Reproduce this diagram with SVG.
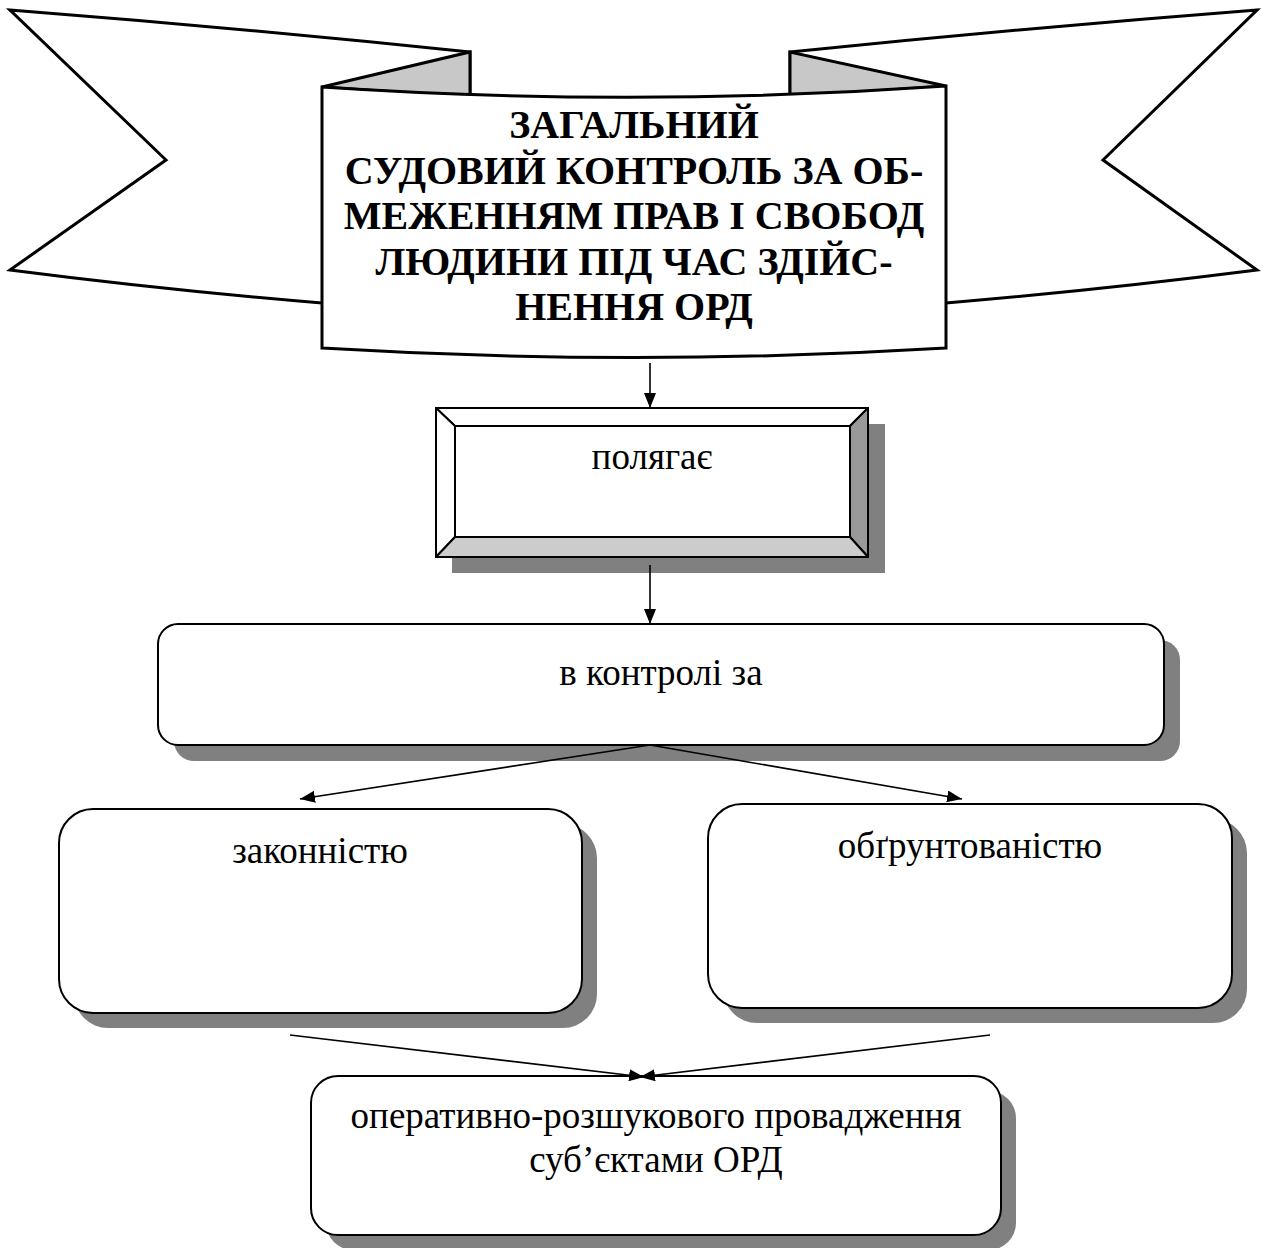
<svg xmlns="http://www.w3.org/2000/svg" width="1265" height="1248" viewBox="0 0 1265 1248">
<style>
.ban{fill:#fff;stroke:#000;stroke-width:3;stroke-linejoin:miter}
.fold{fill:#c8c8c8;stroke:#000;stroke-width:3;stroke-linejoin:miter}
.title{font-family:"Liberation Serif","Times New Roman",serif;font-weight:bold;font-size:40px;fill:#000;text-anchor:middle}
.txt{font-family:"Liberation Serif","Times New Roman",serif;font-size:37px;fill:#000;text-anchor:middle}
.box{fill:#fff;stroke:#000;stroke-width:2}
.shadow{fill:#808080;stroke:none}
.conn{fill:none;stroke:#000;stroke-width:1.6}
</style>
<defs>
<marker id="ah" markerUnits="userSpaceOnUse" markerWidth="16" markerHeight="12" refX="15" refY="6" orient="auto">
<path d="M0,0 L15,6 L0,12 Z" fill="#000"/>
</marker>
</defs>
<rect width="1265" height="1248" fill="#fff"/>

<g id="banner">
<path class="ban" d="M10,10 Q240,28 470,52 L470,300 L322,303 Q165,290 10,270 L166,160 Z"/>
<path class="ban" d="M1257,10 Q1025,28 790,52 L790,300 L946,303 Q1100,290 1257,270 L1103,160 Z"/>
<path class="fold" d="M322,87 L470,52 L470,97 Z"/>
<path class="fold" d="M946,86 L790,52 L790,97 Z"/>
<path class="ban" d="M322,87 Q634,108 946,86 L946,348 Q634,367 322,348 Z"/>
<text class="title" x="634" y="138">ЗАГАЛЬНИЙ</text>
<text class="title" x="634" y="184">СУДОВИЙ КОНТРОЛЬ ЗА ОБ-</text>
<text class="title" x="634" y="229">МЕЖЕННЯМ ПРАВ І СВОБОД</text>
<text class="title" x="634" y="275">ЛЮДИНИ ПІД ЧАС ЗДІЙС-</text>
<text class="title" x="634" y="320">НЕННЯ ОРД</text>
</g>

<g id="node-polyagaie">
<rect class="shadow" x="452" y="424" width="433" height="149"/>
<rect x="436" y="408" width="432" height="149" fill="#fff" stroke="#000" stroke-width="2"/>
<path d="M436,408 L868,408 L850,426 L455,426 Z" fill="#fff" stroke="#000" stroke-width="2" stroke-linejoin="round"/>
<path d="M436,408 L455,426 L455,537 L436,557 Z" fill="#fff" stroke="#000" stroke-width="2" stroke-linejoin="round"/>
<path d="M868,408 L868,557 L850,537 L850,426 Z" fill="#999" stroke="#000" stroke-width="2" stroke-linejoin="round"/>
<path d="M436,557 L455,537 L850,537 L868,557 Z" fill="#ccc" stroke="#000" stroke-width="2" stroke-linejoin="round"/>
<text class="txt" x="652" y="469">полягає</text>
</g>

<g id="node-kontroli">
<rect class="shadow" x="174" y="640" width="1006" height="121" rx="20"/>
<rect class="box" x="158" y="624" width="1006" height="121" rx="20"/>
<text class="txt" x="661" y="685">в контролі за</text>
</g>

<g id="node-zakonnist">
<rect class="shadow" x="74" y="824" width="523" height="204" rx="34"/>
<rect class="box" x="59" y="809" width="523" height="204" rx="34"/>
<text class="txt" x="320" y="863">законністю</text>
</g>

<g id="node-obgruntovanist">
<rect class="shadow" x="723" y="819" width="524" height="204" rx="34"/>
<rect class="box" x="708" y="804" width="524" height="204" rx="34"/>
<text class="txt" x="970" y="858">обґрунтованістю</text>
</g>

<g id="node-provadzhennia">
<rect class="shadow" x="326" y="1091" width="690" height="159" rx="27"/>
<rect class="box" x="311" y="1076" width="690" height="159" rx="27"/>
<text class="txt" x="656" y="1128">оперативно-розшукового провадження</text>
<text class="txt" x="656" y="1172">суб’єктами ОРД</text>
</g>

<g id="connectors">
<line class="conn" x1="650" y1="363" x2="650" y2="408" marker-end="url(#ah)"/>
<line class="conn" x1="650" y1="565" x2="650" y2="624" marker-end="url(#ah)"/>
<line class="conn" x1="650" y1="745" x2="300" y2="799" marker-end="url(#ah)"/>
<line class="conn" x1="650" y1="745" x2="962" y2="799" marker-end="url(#ah)"/>
<line class="conn" x1="290" y1="1035" x2="644" y2="1077" marker-end="url(#ah)"/>
<line class="conn" x1="990" y1="1035" x2="640" y2="1077" marker-end="url(#ah)"/>
</g>
</svg>
